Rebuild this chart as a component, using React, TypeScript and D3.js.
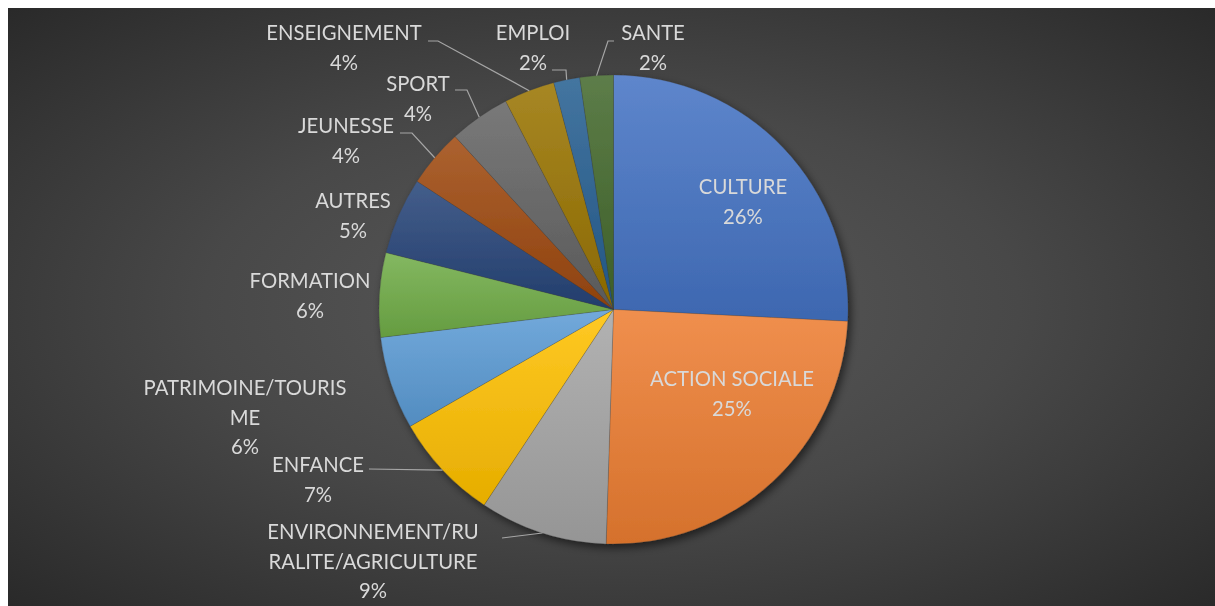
import React from "react";
import * as d3 from "d3";

const categories = [
  "CULTURE", "ACTION SOCIALE", "ENVIRONNEMENT/RURALITE/AGRICULTURE", "ENFANCE",
  "PATRIMOINE/TOURISME", "FORMATION", "AUTRES", "JEUNESSE", "SPORT",
  "ENSEIGNEMENT", "EMPLOI", "SANTE",
];
const values = [25.8, 24.7, 8.8, 7.4, 6.4, 5.8, 5.3, 4.0, 4.2, 3.5, 1.8, 2.3];
const colors = [
  "#4472C4", "#ED7D31", "#A5A5A5", "#FFC000", "#5B9BD5", "#70AD47",
  "#264478", "#9E480E", "#636363", "#997300", "#255E91", "#43682B",
];
// label text lines (as wrapped in the chart)
const labelLines = [
  ["CULTURE"], ["ACTION SOCIALE"], ["ENVIRONNEMENT/RU", "RALITE/AGRICULTURE"], ["ENFANCE"],
  ["PATRIMOINE/TOURIS", "ME"], ["FORMATION"], ["AUTRES"], ["JEUNESSE"], ["SPORT"],
  ["ENSEIGNEMENT"], ["EMPLOI"], ["SANTE"],
];
type Lay = { x: number; y: number; lead?: [number, number][] };
const layout: Lay[] = [
  { x: 743, y: 187 },
  { x: 732, y: 379 },
  { x: 373, y: 532, lead: [[502, 538]] },
  { x: 318, y: 465, lead: [[369, 469]] },
  { x: 245, y: 388 },
  { x: 310, y: 281 },
  { x: 353, y: 201 },
  { x: 346, y: 126, lead: [[400, 133], [412, 133]] },
  { x: 418, y: 84, lead: [[455, 90], [467, 90]] },
  { x: 344, y: 33, lead: [[428, 41], [438, 41]] },
  { x: 533, y: 33, lead: [[552, 70], [566, 70]] },
  { x: 653, y: 33, lead: [[614, 41], [608, 41]] },
];

const W = 1207, H = 598;
const cx = 605.5, cy = 301.5, R = 234.5;

export default function App() {
  const total = d3.sum(values);
  const pie = d3.pie<number>().sort(null).value((d) => d)(values);
  const arc = d3.arc<d3.PieArcDatum<number>>().innerRadius(0).outerRadius(R);
  const ox = 8, oy = 8;
  const lineH = 29.5;
  return (
    <div style={{ position: "fixed", left: 8, top: 8, width: W, height: H, overflow: "hidden" }}>
      <svg width={W} height={H} style={{ display: "block" }} fontFamily="Lato, 'Open Sans', sans-serif">
        <defs>
          <radialGradient id="bg" cx="0.5" cy="0.5" r="0.75">
            <stop offset="0" stopColor="#5a5a5a" />
            <stop offset="0.45" stopColor="#484848" />
            <stop offset="1" stopColor="#262626" />
          </radialGradient>
          <filter id="shadow" x="-20%" y="-20%" width="140%" height="140%">
            <feDropShadow dx="3" dy="4" stdDeviation="4" floodColor="#000" floodOpacity="0.55" />
          </filter>
          {colors.map((c, i) => (
            <linearGradient key={i} id={`g${i}`} x1="0" y1="0" x2="0" y2="1">
              <stop offset="0" stopColor={d3.interpolateRgb(c, "#ffffff")(0.14)} />
              <stop offset="1" stopColor={d3.interpolateRgb(c, "#000000")(0.1)} />
            </linearGradient>
          ))}
        </defs>
        <rect x={0} y={0} width={W} height={H} fill="url(#bg)" />
        <g transform={`translate(${cx},${cy})`} filter="url(#shadow)">
          {pie.map((p, i) => (
            <path key={i} d={arc(p) || ""} fill={`url(#g${i})`} stroke="rgba(60,60,60,0.35)" strokeWidth={0.6} />
          ))}
        </g>
        {pie.map((p, i) => {
          const lay = layout[i];
          if (!lay.lead) return null;
          const mid = (p.startAngle + p.endAngle) / 2;
          const ex = cx + R * Math.sin(mid);
          const ey = cy - R * Math.cos(mid);
          const pts = lay.lead.map(([x, y]) => [x - ox, y - oy]);
          pts.push([ex, ey]);
          return (
            <polyline key={i} points={pts.map((q) => q.join(",")).join(" ")} fill="none" stroke="#A6A6A6" strokeWidth={1.2} />
          );
        })}
        {pie.map((p, i) => {
          const lay = layout[i];
          const lines = [...labelLines[i], `${Math.round((values[i] / total) * 100)}%`];
          return (
            <text key={i} textAnchor="middle" fill="#D9D9D9" fontSize={20.3}>
              {lines.map((t, j) => (
                <tspan key={j} x={lay.x - ox} y={lay.y - oy + j * lineH} dy="0.35em">{t}</tspan>
              ))}
            </text>
          );
        })}
      </svg>
    </div>
  );
}
